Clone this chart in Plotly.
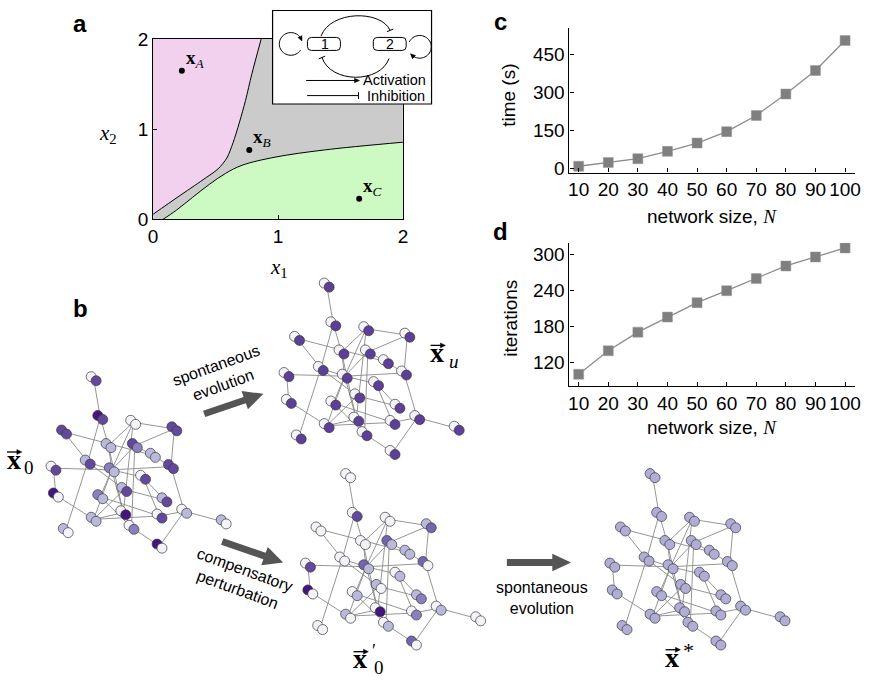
import math
import plotly.graph_objects as go

W, H = 872, 684

# ---------------- panel a : phase diagram ----------------
upper_x = [0.0, 0.2, 0.4, 0.52, 0.59, 0.64, 0.69, 0.74, 0.79, 0.865]
upper_y = [0.057, 0.25, 0.44, 0.56, 0.68, 0.85, 1.07, 1.32, 1.61, 2.0]
lower_x = [0.079, 0.185, 0.316, 0.449, 0.58, 0.712, 0.976, 1.371, 2.0]
lower_y = [0.0, 0.10, 0.244, 0.387, 0.51, 0.60, 0.69, 0.77, 0.856]
pts_x = [0.23, 0.77, 1.65]
pts_y = [1.65, 0.77, 0.23]
pts_lbl = ["A", "B", "C"]
a_ticks = [0, 1, 2]

# ---------------- panels c, d ----------------
net_size = [10, 20, 30, 40, 50, 60, 70, 80, 90, 100]
time_s = [8, 23, 38, 67, 100, 145, 209, 294, 387, 506]
iterations = [101, 140, 171, 196, 220, 240, 260, 281, 296, 311]
c_yticks = [0, 150, 300, 450]
d_yticks = [120, 180, 240, 300]

# ---------------- panel b : network (shared layout) ----------------
node_u = [0, 6.7, 40, 81.7, -30, 15, 41.7, 60, -6, 78.3, -40.7, 18.3, 50, 31, -38.3,
          6.7, 71.7, 91.7, 30, 66.7, 0, 38.3, 131.7, -28.3, 66.7]
node_v = [0, 40, 45, 51.7, 55, 69, 69, 79, 86, 90.7, 92.3, 94, 101.7, 114.3, 120,
          121.7, 125, 136.7, 138.3, 141.7, 145, 153.3, 147.7, 156.7, 172.7]
edges = [(1, 2), (2, 9), (3, 4), (3, 6), (3, 12), (3, 19), (4, 10), (4, 7), (5, 8),
         (6, 12), (6, 19), (7, 8), (7, 12), (7, 22), (8, 10), (9, 12), (9, 24), (9, 14),
         (10, 18), (11, 12), (12, 10), (11, 15), (12, 16), (12, 19), (12, 21), (12, 13),
         (13, 20), (13, 17), (14, 17), (14, 21), (15, 21), (16, 20), (16, 22), (18, 23),
         (18, 25), (18, 20), (19, 21), (19, 22), (21, 20), (22, 25), (2, 6), (5, 9)]
# node states (0 = white ... 4 = darkest purple), first / second component
x0_s1 = [0, 4, 0, 3, 3, 1, 3, 1, 1, 3, 0, 2, 0, 1, 4, 2, 1, 0, 0, 0, 1, 0, 1, 1, 4]
x0_s2 = [3, 3, 0, 3, 3, 1, 2, 1, 3, 3, 3, 1, 3, 3, 0, 1, 3, 1, 4, 3, 1, 2, 0, 0, 0]
xu_s1 = [0] * 25
xu_s2 = [3.2] * 25
x0p_s1 = [0, 0, 0, 1, 0, 0, 2.5, 1, 0, 2.5, 0, 2.5, 0, 1, 4, 0, 1, 0, 0, 0, 1, 0, 0, 0, 2.5]
x0p_s2 = [0, 3, 0, 2.5, 0, 0, 1, 1, 0, 0, 3, 1, 1, 0, 0, 1, 2, 1, 4, 2, 0, 1, 0, 0, 0]
xs_s1 = [1.2] * 25
xs_s2 = [1.2] * 25

purples = [[0, "#f4f3f9"], [0.25, "#b9b9dc"], [0.5, "#8a7fbf"], [0.75, "#62499e"], [1, "#45157f"]]

SANS = "Liberation Sans, Arial, sans-serif"
SERIF = "Liberation Serif, Times New Roman, serif"

fig = go.Figure()

# ---- panel a traces ----
fig.add_trace(go.Scatter(x=[a_ticks[0], a_ticks[-1], a_ticks[-1], a_ticks[0]],
                         y=[a_ticks[0], a_ticks[0], a_ticks[-1], a_ticks[-1]],
                         fill="toself", fillcolor="#cbcbcb", line=dict(width=0),
                         mode="lines", xaxis="x", yaxis="y", hoverinfo="skip"))
fig.add_trace(go.Scatter(x=upper_x, y=upper_y, fill="tozerox", fillcolor="#f1d1ee",
                         mode="lines", line=dict(color="black", width=1, shape="spline", smoothing=0.8),
                         xaxis="x", yaxis="y"))
fig.add_trace(go.Scatter(x=lower_x, y=lower_y, fill="tozeroy", fillcolor="#cdf9c2",
                         mode="lines", line=dict(color="black", width=1, shape="spline"),
                         xaxis="x", yaxis="y"))
fig.add_trace(go.Scatter(x=pts_x, y=pts_y, mode="markers",
                         marker=dict(color="black", size=6), xaxis="x", yaxis="y"))

# ---- panel c, d traces ----
for xax, yax, vals in (("x2", "y2", time_s), ("x3", "y3", iterations)):
    fig.add_trace(go.Scatter(x=net_size, y=vals, mode="lines+markers",
                             line=dict(color="#8c8c8c", width=1.3),
                             marker=dict(symbol="square", size=10, color="#7f7f7f",
                                         line=dict(width=0.5, color="#9a9a9a")),
                             xaxis=xax, yaxis=yax))

# ---- panel b networks ----
graph_origin = {"x0": (87.3, 378.3), "xu": (323.3, 281.7),
                "x0p": (345.0, 478.3), "xs": (653.3, 478.3)}
graph_states = {"x0": (x0_s1, x0_s2), "xu": (xu_s1, xu_s2),
                "x0p": (x0p_s1, x0p_s2), "xs": (xs_s1, xs_s2)}
off = (5.0, 4.2)
for g, (ox, oy) in graph_origin.items():
    px = [ox + u for u in node_u]
    py = [oy + v for v in node_v]
    ex, ey = [], []
    for a, b in edges:
        ex += [px[a - 1] + off[0] / 2, px[b - 1] + off[0] / 2, None]
        ey += [py[a - 1] + off[1] / 2, py[b - 1] + off[1] / 2, None]
    fig.add_trace(go.Scatter(x=ex, y=ey, mode="lines", line=dict(color="#8a8a8a", width=0.9),
                             xaxis="x4", yaxis="y4", hoverinfo="skip"))
    s1, s2 = graph_states[g]
    for s, dx, dy in ((s1, 0, 0), (s2, off[0], off[1])):
        fig.add_trace(go.Scatter(x=[p + dx for p in px], y=[p + dy for p in py], mode="markers",
                                 marker=dict(size=10, color=s, colorscale=purples, cmin=0, cmax=4,
                                             line=dict(color="#3a3a3a", width=0.7)),
                                 xaxis="x4", yaxis="y4", hoverinfo="skip"))

# ---------------- shapes ----------------
shapes = []
blk = dict(color="black", width=1)


def line_path(pts):
    return "M " + " L ".join(f"{x:.2f},{y:.2f}" for x, y in pts)


def block_arrow(x0, y0, x1, y1, sw, hw, hl, color="#555555"):
    L = math.hypot(x1 - x0, y1 - y0)
    ux, uy = (x1 - x0) / L, (y1 - y0) / L
    nx, ny = -uy, ux
    bx, by = x1 - ux * hl, y1 - uy * hl
    pts = [(x0 + nx * sw / 2, y0 + ny * sw / 2), (bx + nx * sw / 2, by + ny * sw / 2),
           (bx + nx * hw / 2, by + ny * hw / 2), (x1, y1),
           (bx - nx * hw / 2, by - ny * hw / 2), (bx - nx * sw / 2, by - ny * sw / 2),
           (x0 - nx * sw / 2, y0 - ny * sw / 2)]
    return dict(type="path", path=line_path(pts) + " Z", xref="x4", yref="y4", fillcolor=color,
                line=dict(width=0), layer="above")


def head(xt, yt, dx, dy, size=5, width=0.45):
    L = math.hypot(dx, dy)
    ux, uy = dx / L, dy / L
    nx, ny = -uy, ux
    bx, by = xt - ux * size, yt - uy * size
    pts = [(xt, yt), (bx + nx * size * width, by + ny * size * width),
           (bx - nx * size * width, by - ny * size * width)]
    return dict(type="path", path=line_path(pts) + " Z", xref="x4", yref="y4",
                fillcolor="black", line=dict(width=0.5, color="black"), layer="above")


def bar(xt, yt, dx, dy, size=3.5):
    L = math.hypot(dx, dy)
    nx, ny = -dy / L, dx / L
    return dict(type="path", path=line_path([(xt + nx * size, yt + ny * size),
                                             (xt - nx * size, yt - ny * size)]),
                xref="x4", yref="y4", line=blk, layer="above")


def rrect(x0, y0, x1, y1, r):
    return (f"M {x0+r},{y0} L {x1-r},{y0} Q {x1},{y0} {x1},{y0+r} L {x1},{y1-r} "
            f"Q {x1},{y1} {x1-r},{y1} L {x0+r},{y1} Q {x0},{y1} {x0},{y1-r} "
            f"L {x0},{y0+r} Q {x0},{y0} {x0+r},{y0} Z")


def loop(cx, cy, r, a0, a1, n=40):
    pts = []
    for i in range(n + 1):
        t = math.radians(a0 + (a1 - a0) * i / n)
        pts.append((cx + r * math.cos(t), cy + r * math.sin(t)))
    return pts


shapes.append(block_arrow(201.7, 416.7, 261.7, 396.0, 7, 20, 20))
shapes.append(block_arrow(220.0, 548.3, 281.7, 570.0, 7, 20, 20))
shapes.append(block_arrow(508.3, 570.0, 573.3, 570.0, 7, 18, 19))

# inset
shapes.append(dict(type="rect", x0=271, y0=0.5, x1=432, y1=97, xref="x4", yref="y4",
                   fillcolor="white", line=dict(color="black", width=1.2), layer="above"))
for bx0, bx1 in ((306.3, 339.7), (373.0, 406.3)):
    shapes.append(dict(type="path", path=rrect(bx0, 28.3, bx1, 41.7, 4), xref="x4", yref="y4",
                       line=blk, fillcolor="white", layer="above"))
shapes.append(dict(type="path", path="M 320,27 C 330,0 381,0 390,21", xref="x4", yref="y4",
                   line=blk, layer="above"))
shapes.append(bar(390, 21, 9, 21))
shapes.append(dict(type="path", path="M 389,50 C 380,76 330,76 321,49", xref="x4", yref="y4",
                   line=blk, layer="above"))
shapes.append(bar(321, 49, -9, -21))
shapes.append(dict(type="path", path=line_path(loop(289.5, 35, 11.7, 33, 335)), xref="x4",
                   yref="y4", line=blk, layer="above"))
t = math.radians(335)
shapes.append(head(289.5 + 11.7 * math.cos(math.radians(345)), 35 + 11.7 * math.sin(math.radians(345)),
                   -math.sin(t), math.cos(t)))
shapes.append(dict(type="path", path=line_path(loop(420.0, 38, 11.7, 205, 495)), xref="x4",
                   yref="y4", line=blk, layer="above"))
t2 = math.radians(135)
shapes.append(head(420 + 11.7 * math.cos(math.radians(143)), 38 + 11.7 * math.sin(math.radians(143)),
                   -math.sin(t2), math.cos(t2)))
shapes.append(dict(type="path", path=line_path([(305, 72.7), (355, 72.7)]), xref="x4", yref="y4",
                   line=blk, layer="above"))
shapes.append(head(359, 72.7, 1, 0, 5))
shapes.append(dict(type="path", path=line_path([(306, 88.3), (358, 88.3)]), xref="x4", yref="y4",
                   line=blk, layer="above"))
shapes.append(bar(358, 88.3, 1, 0, 3.5))

# ---------------- annotations ----------------
ann = []


def txt(x, y, s, size, family=SANS, xanchor="center", yanchor="middle", angle=0, color="black"):
    ann.append(dict(x=x, y=y, xref="x4", yref="y4", text=s, showarrow=False, textangle=angle,
                    font=dict(size=size, family=family, color=color),
                    xanchor=xanchor, yanchor=yanchor))


def vec_label(cx, cy, sub, sx, sy, sub_size=19, italic_sub=False, main="<b>x</b>"):
    # bold x glyph, vector arrow above it, and a sub/superscript
    txt(cx, cy - 3.5, main, 28, family=SERIF)
    shapes.append(dict(type="path", path=line_path([(cx - 7, cy - 11), (cx + 5, cy - 11)]),
                       xref="x4", yref="y4", line=dict(color="black", width=1.3), layer="above"))
    shapes.append(head(cx + 8, cy - 11, 1, 0, 5, 0.5))
    s = f"<i>{sub}</i>" if italic_sub else sub
    txt(sx, sy, s, sub_size, family=SERIF)


txt(76, 14, "<b>a</b>", 24)
txt(76, 308, "<b>b</b>", 24)
txt(502, 12, "<b>c</b>", 24)
txt(502, 228, "<b>d</b>", 24)

txt(324, 35, "1", 14)
txt(390, 35, "2", 14)
txt(360.5, 72.5, "Activation", 14.5, xanchor="left")
txt(364.5, 89, "Inhibition", 14.5, xanchor="left")

txt(278, 266, "<i>x</i><sub>1</sub>", 21, family=SERIF)
txt(104, 128, "<i>x</i><sub>2</sub>", 21, family=SERIF)

for xv, yv, lb in zip(pts_x, pts_y, pts_lbl):
    ann.append(dict(x=xv, y=yv, xref="x", yref="y", showarrow=False,
                    text=f"<b>x</b><sub><i>{lb}</i></sub>", xanchor="left", yanchor="bottom",
                    xshift=2, yshift=-2, font=dict(size=19, family=SERIF, color="black")))

txt(510, 88, "time (s)", 19, angle=-90)
txt(512, 318, "iterations", 19, angle=-90)
txt(716, 213, "network size, <i><span style='font-family:Liberation Serif'>N</span></i>", 19)
txt(716, 431, "network size, <i><span style='font-family:Liberation Serif'>N</span></i>", 19)

txt(218, 377, "spontaneous<br>evolution", 16, angle=-20)
txt(240, 588, "compensatory<br>perturbation", 16, angle=20)
txt(544, 607, "spontaneous<br>evolution", 16)

vec_label(9, 467, "0", 24, 472)
vec_label(438, 357, "u", 455, 363, italic_sub=True)
vec_label(360, 673, "0", 379, 678)
txt(374, 661, "\u2032", 18, family=SERIF)
vec_label(676, 671, "*", 692, 661, sub_size=22)

# ---------------- layout ----------------
axis_common = dict(showgrid=False, zeroline=False, showline=True, linecolor="black",
                   linewidth=1.2, ticks="inside", ticklen=4, tickcolor="black",
                   tickfont=dict(family=SANS, size=19, color="black"))

fig.update_layout(
    width=W, height=H, margin=dict(l=0, r=0, t=0, b=0),
    paper_bgcolor="white", plot_bgcolor="rgba(0,0,0,0)", showlegend=False,
    xaxis=dict(domain=[150 / W, 403 / W], range=[0, 2], tickvals=a_ticks, mirror=True,
               anchor="y", **axis_common),
    yaxis=dict(domain=[1 - 216 / H, 1 - 30 / H], range=[0, 2], tickvals=a_ticks, mirror=True,
               anchor="x", **axis_common),
    xaxis2=dict(domain=[571.7 / W, 860.7 / W], range=[6.9, 103.3], tickvals=net_size,
                anchor="y2", **axis_common),
    yaxis2=dict(domain=[1 - 167.7 / H, 1 - 18.3 / H], range=[-16.9, 556.3], tickvals=c_yticks,
                anchor="x2", **axis_common),
    xaxis3=dict(domain=[571.7 / W, 860.7 / W], range=[6.9, 103.3], tickvals=net_size,
                anchor="y3", **axis_common),
    yaxis3=dict(domain=[1 - 387.7 / H, 1 - 240 / H], range=[81.8, 319.8], tickvals=d_yticks,
                anchor="x3", **axis_common),
    xaxis4=dict(domain=[0, 1], range=[0, W], visible=False, anchor="y4", fixedrange=True),
    yaxis4=dict(domain=[0, 1], range=[H, 0], visible=False, anchor="x4", fixedrange=True),
    shapes=shapes, annotations=ann,
)

fig.write_html("out.html", config={"displayModeBar": False},
               post_script="document.body.style.margin='0px';document.body.style.overflow='hidden';")
